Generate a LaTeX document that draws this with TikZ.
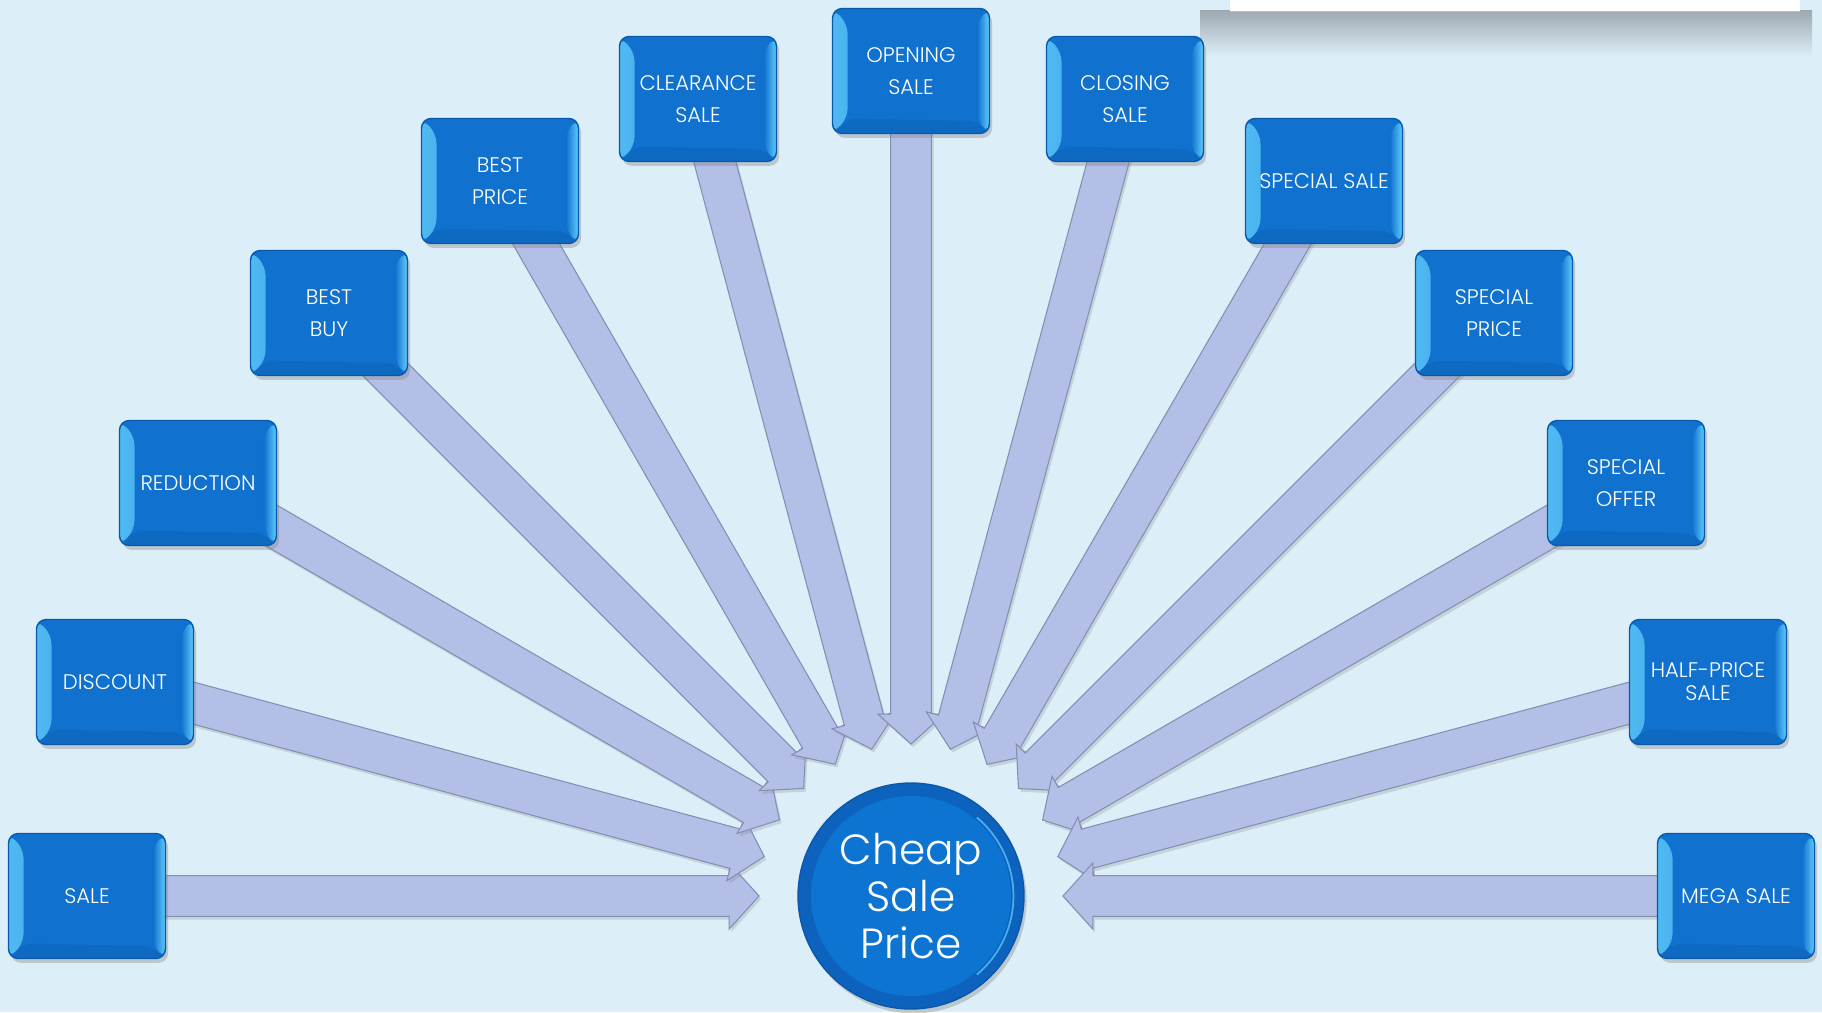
\documentclass[tikz,border=0pt]{standalone}
\usepackage{fontspec}
\setmainfont{Poppins}[UprightFont=* Light]
\usetikzlibrary{calc,shadows,backgrounds}

\definecolor{backblue}{RGB}{220,238,247}
\definecolor{boxblue}{RGB}{16,114,206}
\definecolor{boxedge}{RGB}{10,88,172}
\definecolor{bevellight}{RGB}{96,204,252}
\definecolor{hubblue}{RGB}{14,116,210}
\definecolor{hubrim}{RGB}{12,98,188}
\definecolor{arrowfill}{RGB}{179,191,230}
\definecolor{arrowedge}{RGB}{132,142,178}
\definecolor{panelshadow}{RGB}{158,168,176}

\begin{document}
\begin{tikzpicture}[
x=0.02cm, y=-0.02cm,
salebox/.style={
% The shape:
rectangle, rounded corners=5.5pt,
% The size:
minimum width=3.14cm, minimum height=2.5cm, inner sep=1pt,
% The border:
thick,
draw=boxedge,
% The filling:
fill=boxblue,
drop shadow={opacity=.35, shadow xshift=1.5pt, shadow yshift=-2.5pt},
path picture={
% left and right bevel
\shade[left color=bevellight!80!boxblue, right color=boxblue]
(path picture bounding box.south west) -- (path picture bounding box.north west)
-- ([shift={(0.3cm,-0.3cm)}]path picture bounding box.north west)
-- ([shift={(0.3cm,0.3cm)}]path picture bounding box.south west) -- cycle;
\shade[left color=boxblue, right color=bevellight]
(path picture bounding box.south east) -- (path picture bounding box.north east)
-- ([shift={(-0.25cm,-0.25cm)}]path picture bounding box.north east)
-- ([shift={(-0.25cm,0.25cm)}]path picture bounding box.south east) -- cycle;
% bottom bevel
\fill[boxblue!88!black, opacity=.5]
(path picture bounding box.south west) -- (path picture bounding box.south east)
-- ([shift={(-0.25cm,0.25cm)}]path picture bounding box.south east)
-- ([shift={(0.3cm,0.3cm)}]path picture bounding box.south west) -- cycle;
},
% Font
text=white, align=center, font=\fontsize{12}{18.5}\selectfont
},
hub/.style={
% The shape:
circle, inner sep=0pt,
% The size:
minimum size=4.52cm,
% The border:
thick, draw=boxedge,
% The filling:
fill=hubrim,
drop shadow={opacity=.35, shadow xshift=1.5pt, shadow yshift=-2.5pt},
path picture={
\fill[hubblue] (path picture bounding box.center) circle (2.0cm);
\draw[bevellight!70!hubblue, line width=1pt]
([shift={(-50:2.05cm)}]path picture bounding box.center) arc (-50:50:2.05cm);
},
% Font
text=white, align=center, font=\fontsize{24}{26.5}\selectfont
},
fanarrow/.style={
fill=arrowfill, draw=arrowedge, line width=0.6pt, line join=miter,
drop shadow={opacity=.25, shadow xshift=1.2pt, shadow yshift=-1.8pt}
}]

\useasboundingbox (0,0) rectangle (1822,1012);

% the boxes
\node[salebox] (sale) at (87,896) {SALE};
\node[salebox] (discount) at (115,682) {DISCOUNT};
\node[salebox] (reduction) at (198,483) {REDUCTION};
\node[salebox] (bestbuy) at (329,313) {BEST\\BUY};
\node[salebox] (bestprice) at (500,181) {BEST\\PRICE};
\node[salebox] (clearance) at (698,99) {CLEARANCE\\SALE};
\node[salebox] (opening) at (911,71) {OPENING\\SALE};
\node[salebox] (closing) at (1125,99) {CLOSING\\SALE};
\node[salebox] (specialsale) at (1324,181) {SPECIAL SALE};
\node[salebox] (specialprice) at (1494,313) {SPECIAL\\PRICE};
\node[salebox] (specialoffer) at (1626,483) {SPECIAL\\OFFER};
\node[salebox] (halfprice) at (1708,682) {HALF-PRICE\\[-5.5pt]SALE};
\node[salebox] (megasale) at (1736,896) {MEGA SALE};

% the hub
\node[hub] (hub) at (911,896) {Cheap\\Sale\\Price};

\begin{pgfonlayer}{background}
\fill[backblue] (0,0) rectangle (1822,1012);
% panel at the top right
\shade[top color=panelshadow, bottom color=backblue] (1200,10) rectangle (1812,56);
\fill[white] (1230,-2) rectangle (1800,11);
\draw[black!25, line width=0.5pt] (1230,11) -- (1800,11);

% the arrows
\foreach \b in {sale,discount,reduction,bestbuy,bestprice,clearance,opening,
closing,specialsale,specialprice,specialoffer,halfprice,megasale} {
\coordinate (tip) at ($(hub.center)!86.5pt!(\b.center)$);
\coordinate (head) at ($(hub.center)!103.5pt!(\b.center)$);
\draw[fanarrow] (tip)
-- ($(head)!18.8pt!90:(\b.center)$)
-- ($(head)!11.6pt!90:(\b.center)$)
-- ($(\b.center)!11.6pt!-90:(head)$)
-- ($(\b.center)!11.6pt!90:(head)$)
-- ($(head)!11.6pt!-90:(\b.center)$)
-- ($(head)!18.8pt!-90:(\b.center)$) -- cycle;
}
\end{pgfonlayer}
\end{tikzpicture}
\end{document}
